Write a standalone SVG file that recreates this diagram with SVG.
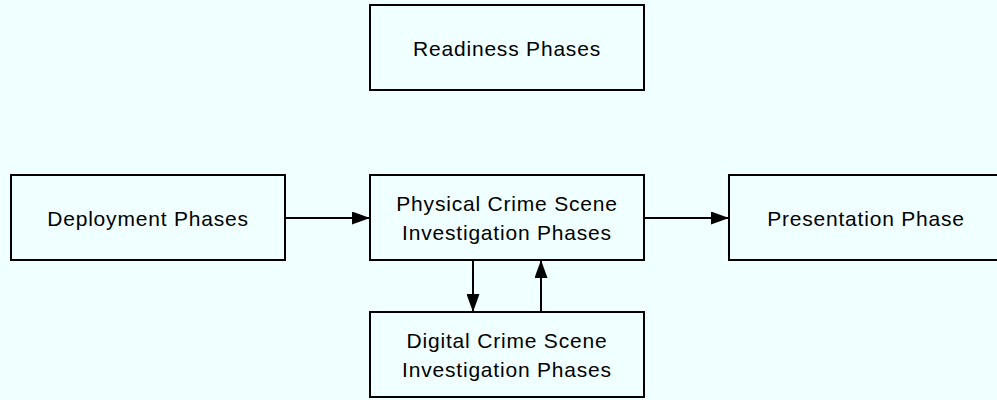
<svg xmlns="http://www.w3.org/2000/svg" width="997" height="400" viewBox="0 0 997 400">
<defs>
<style>
.box{fill:#F0FFFF;stroke:#000;stroke-width:2}
.t{font-family:"Liberation Sans",Arial,sans-serif;font-size:21px;fill:#000;text-anchor:middle;letter-spacing:0.8px}
.e{fill:none;stroke:#000;stroke-width:2}
</style>
<marker id="ah" viewBox="0 0 18 13" refX="18" refY="6.5" markerWidth="18" markerHeight="13" markerUnits="userSpaceOnUse" orient="auto">
<path d="M0,0 L18,6.5 L0,13 Z" fill="#000"/>
</marker>
</defs>
<rect width="997" height="400" fill="#F0FFFF"/>
<g id="readiness"><rect class="box" x="370" y="5" width="274" height="85"/><text class="t" x="507" y="56">Readiness Phases</text></g>
<g id="deployment"><rect class="box" x="11" y="175" width="274" height="85"/><text class="t" x="148" y="226">Deployment Phases</text></g>
<g id="physical"><rect class="box" x="370" y="175" width="274" height="85"/><text class="t" x="507" y="211">Physical Crime Scene</text><text class="t" x="507" y="240">Investigation Phases</text></g>
<g id="presentation"><rect class="box" x="729" y="175" width="274" height="85"/><text class="t" x="866" y="226">Presentation Phase</text></g>
<g id="digital"><rect class="box" x="370" y="312" width="274" height="85"/><text class="t" x="507" y="348">Digital Crime Scene</text><text class="t" x="507" y="377">Investigation Phases</text></g>
<g id="connectors">
<path class="e" d="M285,218 L370,218" marker-end="url(#ah)"/>
<path class="e" d="M644,218 L729,218" marker-end="url(#ah)"/>
<path class="e" d="M473,260 L473,312" marker-end="url(#ah)"/>
<path class="e" d="M541,312 L541,260" marker-end="url(#ah)"/>
</g>
</svg>
